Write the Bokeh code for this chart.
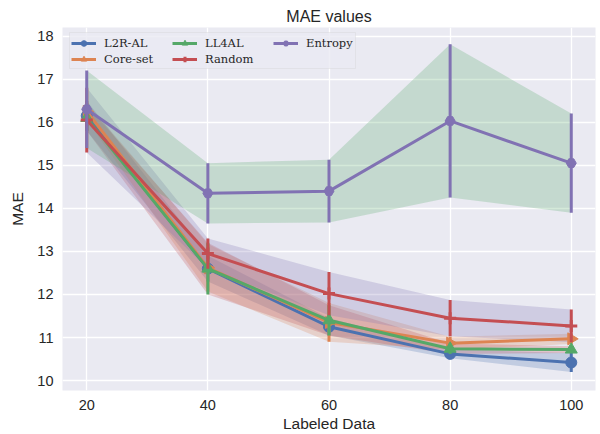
from bokeh.plotting import figure
from bokeh.models import Range1d, FixedTicker, Legend, LegendItem, BoxAnnotation
from bokeh.embed import file_html
from bokeh.resources import INLINE

labeled = [20, 40, 60, 80, 100]

l2r_mean = [16.15, 12.60, 11.25, 10.62, 10.42]
l2r_std = [0.35, 0.30, 0.20, 0.10, 0.22]
core_mean = [16.25, 12.62, 11.35, 10.87, 10.97]
core_std = [0.20, 0.55, 0.45, 0.15, 0.12]
ll4al_mean = [16.10, 12.60, 11.40, 10.74, 10.72]
ll4al_std = [0.30, 0.60, 0.35, 0.12, 0.08]
random_mean = [16.05, 12.95, 12.02, 11.45, 11.27]
random_std = [0.75, 0.35, 0.50, 0.42, 0.38]
entropy_mean = [16.30, 14.35, 14.40, 16.03, 15.05]
entropy_std = [0.90, 0.70, 0.73, 1.78, 1.15]

series_names = ["L2R-AL", "Core-set", "LL4AL", "Random", "Entropy"]
line_colors = ["#4c72b0", "#dd8452", "#55a868", "#c44e52", "#8172b3"]
band_colors = ["#4c72b0", "#dd8452", "#c44e52", "#8172b3", "#55a868"]
markers = ["circle", "triangle", "triangle", "cross", "hex"]
marker_sizes = [11, 12, 12, 12, 10]
angles = [0, -1.5708, 0, 0, 0]

means = [l2r_mean, core_mean, ll4al_mean, random_mean, entropy_mean]
stds = [l2r_std, core_std, ll4al_std, random_std, entropy_std]

TXT = "#262626"

p = figure(width=600, height=434, output_backend="svg", toolbar_location=None,
           x_range=Range1d(16, 104), y_range=Range1d(9.77, 18.2),
           min_border_left=62, min_border_right=5, min_border_top=27, min_border_bottom=44,
           background_fill_color="#eaeaf2", border_fill_color="white",
           title="MAE values")
p.outline_line_color = None
p.title.align = "center"
p.title.text_font = "Liberation Sans"
p.title.text_font_style = "normal"
p.title.text_font_size = "16px"
p.title.text_color = TXT
p.title.standoff = 5

for ax in (p.xaxis, p.yaxis):
    ax.axis_line_color = None
    ax.major_tick_line_color = None
    ax.minor_tick_line_color = None
    ax.major_tick_out = 0
    ax.major_tick_in = 0
    ax.major_label_text_font = "Liberation Sans"
    ax.major_label_text_font_size = "14.5px"
    ax.major_label_text_color = TXT
    ax.axis_label_text_font = "Liberation Sans"
    ax.axis_label_text_font_size = "15.5px"
    ax.axis_label_text_font_style = "normal"
    ax.axis_label_text_color = TXT

p.xaxis.ticker = FixedTicker(ticks=labeled)
p.yaxis.ticker = FixedTicker(ticks=list(range(10, 19)))
p.xaxis.axis_label = "Labeled Data"
p.yaxis.axis_label = "MAE"
p.xaxis.major_label_standoff = 9
p.yaxis.major_label_standoff = 9
p.xaxis.axis_label_standoff = 2
p.yaxis.axis_label_standoff = 8

p.grid.grid_line_color = "white"
p.grid.grid_line_width = 1.3

# bands
for m, s, bc in zip(means, stds, band_colors):
    lo = [a - b for a, b in zip(m, s)]
    hi = [a + b for a, b in zip(m, s)]
    p.varea(x=labeled, y1=lo, y2=hi, fill_color=bc, fill_alpha=0.25)

items = []
for name, m, s, lc, mk, ms, ang in zip(series_names, means, stds, line_colors, markers, marker_sizes, angles):
    lo = [a - b for a, b in zip(m, s)]
    hi = [a + b for a, b in zip(m, s)]
    r_line = p.line(labeled, m, line_color=lc, line_width=3)
    r_err = p.segment(x0=labeled, y0=lo, x1=labeled, y1=hi, line_color=lc, line_width=3)
    r_mk = p.scatter(labeled, m, marker=mk, size=ms, angle=ang, fill_color=lc, line_color=lc,
                     line_width=3 if mk == "cross" else 1)
    items.append(LegendItem(label=name, renderers=[r_line, r_mk]))

# legend frame (drawn separately so its width can follow the last column)
legend_box = BoxAnnotation(left=69, right=355, top=32, bottom=68,
                           left_units="canvas", right_units="canvas",
                           top_units="canvas", bottom_units="canvas",
                           fill_color="#eaeaf2", fill_alpha=0.8,
                           line_color="#cccccc", line_width=1)
p.add_layout(legend_box)

legend = Legend(items=items, location="top_left", ncols=3,
                label_text_font="DejaVu Serif", label_text_font_size="11.5px",
                label_text_color=TXT, glyph_width=25, glyph_height=14,
                spacing=2, padding=4, margin=9, label_standoff=8, label_width=66,
                background_fill_alpha=0, border_line_color=None)
p.add_layout(legend)

open("out.html", "w").write(file_html(p, INLINE))
